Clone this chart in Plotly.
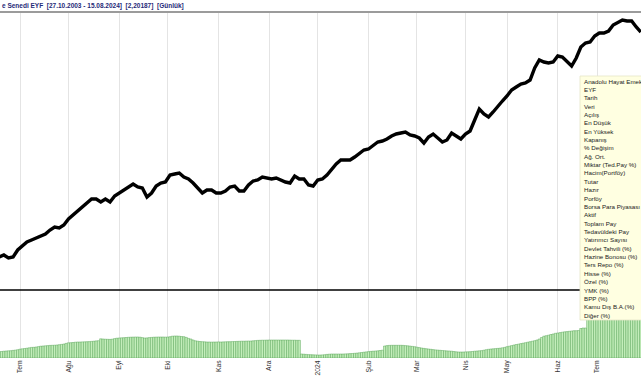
import plotly.graph_objects as go

# ---------------- data ----------------
title_text = "e Senedi EYF  [27.10.2003 - 15.08.2024]  [2,20187]  [Günlük]"

# closing price, one value every 2 trading days
price_vals = [
    1.499, 1.505, 1.496, 1.499, 1.520, 1.532, 1.544, 1.550, 1.556, 1.562,
    1.568, 1.580, 1.589, 1.586, 1.595, 1.613, 1.625, 1.634, 1.649, 1.661,
    1.673, 1.673, 1.664, 1.673, 1.664, 1.682, 1.691, 1.697, 1.709, 1.718,
    1.709, 1.706, 1.679, 1.691, 1.712, 1.721, 1.724, 1.745, 1.748, 1.751,
    1.739, 1.733, 1.721, 1.706, 1.691, 1.700, 1.700, 1.691, 1.691, 1.697,
    1.709, 1.712, 1.697, 1.697, 1.715, 1.727, 1.730, 1.739, 1.736, 1.733,
    1.736, 1.730, 1.724, 1.721, 1.742, 1.733, 1.733, 1.715, 1.712, 1.730,
    1.733, 1.745, 1.763, 1.778, 1.790, 1.790, 1.790, 1.799, 1.811, 1.820,
    1.823, 1.832, 1.844, 1.847, 1.853, 1.862, 1.868, 1.871, 1.874, 1.865,
    1.862, 1.856, 1.841, 1.859, 1.868, 1.856, 1.844, 1.850, 1.871, 1.862,
    1.853, 1.868, 1.877, 1.910, 1.943, 1.928, 1.919, 1.934, 1.952, 1.967,
    1.982, 2.000, 2.009, 2.018, 2.021, 2.030, 2.066, 2.090, 2.084, 2.081,
    2.084, 2.102, 2.099, 2.087, 2.072, 2.096, 2.129, 2.141, 2.144, 2.162,
    2.171, 2.171, 2.177, 2.195, 2.204, 2.210, 2.207, 2.207, 2.189, 2.174,
]

# lower panel bars, one value per trading day
bar_vals = [
    6.3, 6.5, 6.8, 7.0, 7.2, 7.3, 7.6, 7.9, 8.3, 8.8,
    9.2, 9.5, 9.8, 10.2, 10.6, 10.7, 11.0, 11.4, 11.8, 12.0,
    12.2, 12.4, 12.6, 12.7, 12.8, 13.0, 13.3, 13.6, 14.0, 14.6,
    15.2, 15.3, 15.5, 15.8, 16.0, 16.0, 16.1, 16.2, 16.3, 16.4,
    16.6, 16.8, 17.1, 17.3, 19.2, 19.0, 18.8, 18.7, 18.6, 18.8,
    19.4, 19.8, 20.0, 20.2, 20.3, 20.5, 20.7, 20.8, 20.9, 21.0,
    21.0, 20.8, 20.4, 20.0, 20.1, 20.4, 20.6, 20.8, 20.9, 21.0,
    21.0, 21.0, 20.9, 21.0, 21.3, 21.8, 22.0, 22.0, 21.8, 21.5,
    21.3, 20.6, 19.6, 19.0, 18.0, 17.2, 16.8, 16.5, 16.3, 16.2,
    16.0, 16.0, 15.9, 16.0, 16.0, 16.1, 16.0, 16.1, 16.2, 16.3,
    16.3, 16.4, 16.5, 16.6, 16.7, 16.8, 16.8, 16.9, 17.0, 17.0,
    17.2, 17.4, 17.6, 17.7, 17.8, 17.8, 17.9, 18.0, 18.0, 18.0,
    18.0, 18.0, 18.0, 18.0, 18.0, 18.0, 17.9, 17.8, 17.8, 17.7,
    17.7, 4.0, 3.8, 3.6, 3.4, 3.3, 3.2, 3.1, 3.0, 3.0,
    3.1, 3.3, 3.6, 3.8, 4.0, 4.0, 4.0, 4.0, 4.0, 4.0,
    4.1, 4.2, 4.4, 4.5, 4.7, 4.9, 5.2, 5.5, 5.8, 6.1,
    6.4, 6.6, 6.8, 7.0, 7.2, 7.5, 7.8, 12.0, 12.4, 12.6,
    12.7, 12.7, 12.7, 12.7, 12.7, 12.6, 12.4, 12.2, 11.9, 11.6,
    11.3, 10.8, 10.4, 10.0, 9.6, 9.3, 9.0, 8.7, 8.4, 8.1,
    7.9, 7.7, 7.5, 7.3, 7.1, 7.0, 6.8, 6.5, 6.2, 6.0,
    6.0, 6.0, 6.1, 6.2, 6.3, 6.5, 6.8, 7.0, 7.2, 7.4,
    7.8, 8.3, 8.7, 9.0, 9.2, 9.4, 9.6, 9.8, 10.2, 10.6,
    11.3, 11.8, 12.4, 13.0, 13.5, 13.9, 14.4, 14.8, 15.3, 15.8,
    16.3, 16.8, 17.3, 18.0, 19.0, 20.5, 21.8, 22.3, 22.8, 23.5,
    24.0, 24.7, 25.0, 25.4, 25.8, 26.2, 26.4, 26.7, 27.0, 27.3,
    27.3, 27.5, 29.5, 30.0, 30.0, 42.0, 42.5, 43.0, 43.5, 44.0,
    44.5, 45.0, 45.5, 46.0, 46.5, 47.0, 47.0, 47.5, 48.0, 48.0,
    48.5, 49.0, 49.0, 49.5, 50.0, 50.0, 50.5, 51.0, 51.0,
]

# month ticks (trading-day index of first session of each month)
tick_days = [9, 30, 52, 73, 95, 117, 138, 160, 181, 202, 220, 242, 259]
tick_labels = ["Tem", "Ağu", "Eyl", "Eki", "Kas", "Ara", "2024",
               "Şub", "Mar", "Nis", "May", "Haz", "Tem"]

info_items = [
    "Anadolu Hayat Emeklilik", "EYF", "Tarih", "Veri", "Açılış", "En Düşük",
    "En Yüksek", "Kapanış", "% Değişim", "Ağ. Ort.", "Miktar (Ted.Pay %)",
    "Hacim(Portföy)", "Tutar", "Hazır", "Porföy", "Borsa Para Piyasası",
    "Aktif", "Toplam Pay", "Tedavüldeki Pay", "Yatırımcı Sayısı",
    "Devlet Tahvili (%)", "Hazine Bonosu (%)", "Ters Repo (%)", "Hisse (%)",
    "Özel (%)", "YMK (%)", "BPP (%)", "Kamu Dış B.A.(%)", "Diğer (%)",
]

# ---------------- figure ----------------
W, H = 641, 380


def py(p):  # pixel y -> paper y
    return 1 - p / H


def px(p):
    return p / W


price_x = list(range(0, 2 * len(price_vals), 2))
bar_x = list(range(len(bar_vals)))

fig = go.Figure()
fig.add_trace(go.Bar(
    x=bar_x, y=bar_vals, xaxis="x", yaxis="y",
    marker=dict(color="#C4EEBB", line=dict(color="#4F9F4F", width=0.45)),
    width=1.0, hoverinfo="skip",
))
fig.add_trace(go.Scatter(
    x=price_x, y=price_vals, xaxis="x", yaxis="y2", mode="lines",
    line=dict(color="#000000", width=3.4, shape="linear"), hoverinfo="skip",
))

grid_col = "#E4E4E4"
fig.update_layout(
    width=W, height=H,
    margin=dict(l=0, r=0, t=0, b=0, pad=0),
    paper_bgcolor="white", plot_bgcolor="white",
    showlegend=False, bargap=0, hovermode=False,
    xaxis=dict(
        domain=[0, 1], anchor="y", range=[0.33, 278.06],
        tickmode="array", tickvals=tick_days, ticktext=tick_labels,
        tickangle=-90, ticks="", showgrid=True, gridcolor=grid_col,
        gridwidth=1, zeroline=False, showline=False,
        tickfont=dict(family="Liberation Sans, Arial", size=6.8, color="#333333"),
    ),
    yaxis=dict(
        domain=[py(358), py(290)], range=[0, 68],
        showticklabels=False, showgrid=False, zeroline=False, showline=False,
    ),
    yaxis2=dict(
        domain=[py(290), py(13)], range=[1.40, 2.231], anchor="x",
        showticklabels=False, showgrid=False, zeroline=False, showline=False,
    ),
)

shapes = [
    # top border line under title
    dict(type="line", xref="paper", yref="paper", x0=0, x1=1,
         y0=py(12), y1=py(12), line=dict(color="#7A7A7A", width=1.5), layer="above"),
    # separator between panels
    dict(type="line", xref="paper", yref="paper", x0=0, x1=1,
         y0=py(290), y1=py(290), line=dict(color="#000000", width=1.5), layer="above"),
    # tooltip box
    dict(type="rect", xref="paper", yref="paper", x0=px(580), x1=px(660),
         y0=py(320), y1=py(76), fillcolor="#FFFFE1",
         line=dict(color="#E6E6C8", width=0.8), layer="above"),
]
fig.update_layout(shapes=shapes)

annotations = [
    dict(text=title_text, xref="paper", yref="paper", x=px(0), y=py(6),
         xanchor="left", yanchor="middle", showarrow=False,
         font=dict(family="Liberation Sans, Arial", size=6.5, color="#1F2A78",
                   weight="bold")),
]
y0_item, step = 81.0, 8.36
for i, t in enumerate(info_items):
    annotations.append(dict(
        text=t, xref="paper", yref="paper", x=px(582), y=py(y0_item + i * step),
        xanchor="left", yanchor="middle", showarrow=False,
        font=dict(family="Liberation Sans, Arial", size=6.2, color="#1A1A1A"),
    ))
fig.update_layout(annotations=annotations)

fig.write_html(
    "out.html",
    config={"displayModeBar": False, "staticPlot": True},
    post_script="document.body.style.margin='0';document.body.style.padding='0';"
                "document.body.style.overflow='hidden';",
)
